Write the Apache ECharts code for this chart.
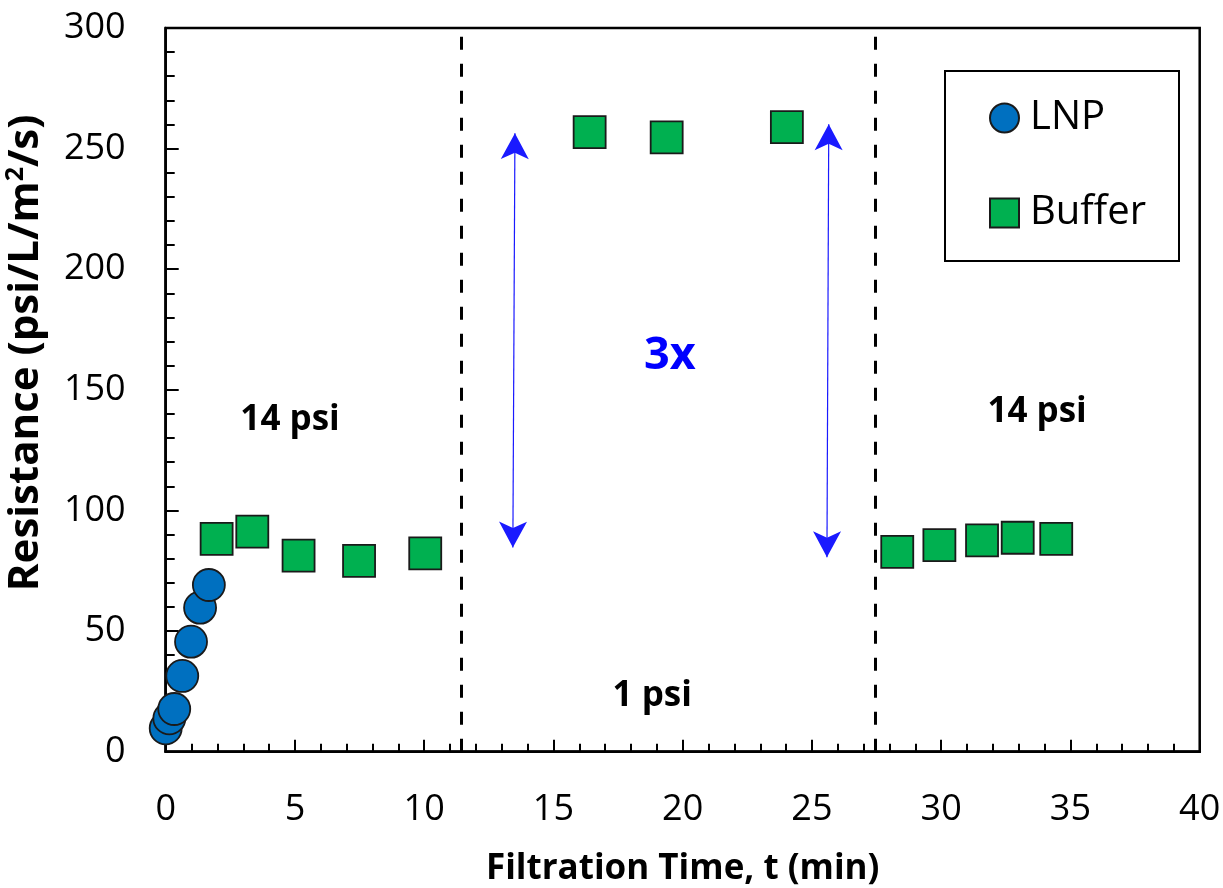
<!DOCTYPE html>
<html>
<head>
<meta charset="utf-8">
<script src="https://cdn.jsdelivr.net/npm/echarts@6/dist/echarts.min.js"></script>
<style>
html,body{margin:0;padding:0;background:#fff;}
#chart{width:1223px;height:888px;}
</style>
</head>
<body>
<div id="chart"></div>
<script>
// ---- data ----
var lnpX = [0.0, 0.14, 0.33, 0.64, 0.98, 1.33, 1.67];
var lnpY = [9.7, 13.8, 17.7, 31.4, 45.6, 59.7, 69.1];
var bufferX = [1.97, 3.35, 5.14, 7.48, 10.04, 16.40, 19.38, 24.03, 28.30, 29.93, 31.58, 32.96, 34.45];
var bufferY = [88.2, 91.2, 81.3, 79.1, 82.2, 256.8, 254.7, 258.9, 82.8, 85.6, 87.6, 88.7, 88.2];
var pressureChangeX = [11.42, 27.45];
// double arrows: [xTop, yTop, xBottom, yBottom]
var arrowLeft = [13.51, 256.4, 13.43, 84.6];
var arrowRight = [25.65, 260.1, 25.58, 80.6];
var noteTexts = ['14 psi', '1 psi', '14 psi', '3x'];
var noteX = [4.81, 18.82, 33.71, 19.5];
var noteY = [137.5, 22.9, 140.8, 164.0];
var xTicks = [0, 5, 10, 15, 20, 25, 30, 35, 40];
var yTicks = [0, 50, 100, 150, 200, 250, 300];

var FONT = 'Open Sans';

function zip(a, b) { return a.map(function (v, i) { return [v, b[i]]; }); }

function arrowLine(a) {
  return [
    { coord: [a[0], a[1]] },
    { coord: [a[2], a[3]] }
  ];
}

var notes = noteTexts.map(function (t, i) {
  var big = t === '3x';
  return {
    coord: [noteX[i], noteY[i]],
    label: {
      show: true,
      position: 'inside',
      formatter: t,
      fontFamily: FONT,
      fontWeight: 'bold',
      fontSize: big ? 45 : 35,
      color: big ? '#0000ff' : '#000'
    }
  };
});

var chart = echarts.init(document.getElementById('chart'), null, { renderer: 'canvas' });
chart.setOption({
  animation: false,
  backgroundColor: '#fff',
  grid: {
    left: 165.7, right: 23.3, top: 28, bottom: 136.3,
    containLabel: false, outerBoundsMode: 'none',
    show: true, borderColor: '#000', borderWidth: 2.5, backgroundColor: 'transparent'
  },
  legend: {
    data: ['LNP', 'Buffer'],
    orient: 'vertical',
    left: 945, top: 71,
    padding: [27, 29, 28, 44],
    itemGap: 55,
    itemWidth: 29, itemHeight: 29,
    backgroundColor: '#fff',
    borderColor: '#000', borderWidth: 2,
    textStyle: {
      fontFamily: FONT, fontSize: 40, color: '#000',
      lineHeight: 40, width: 120, padding: [0, 0, 0, 6]
    }
  },
  xAxis: {
    type: 'value', min: 0, max: 40, interval: 5,
    name: 'Filtration Time, t (min)',
    nameLocation: 'middle', nameGap: 100,
    nameTextStyle: { fontFamily: FONT, fontWeight: 'bold', fontSize: 35, color: '#000' },
    axisLine: { show: true, lineStyle: { color: '#000', width: 2.5 } },
    axisTick: { show: true, inside: true, length: 12, lineStyle: { color: '#000', width: 2 } },
    minorTick: { show: true, splitNumber: 5, length: 8, lineStyle: { color: '#000', width: 2 } },
    splitLine: { show: false },
    axisLabel: {
      fontFamily: FONT, fontSize: 36, color: '#000', margin: 40,
      formatter: function (v) { return xTicks.indexOf(v) >= 0 ? String(v) : ''; }
    }
  },
  yAxis: {
    type: 'value', min: 0, max: 300, interval: 50,
    name: '{t|Resistance (psi/L/m}{sup|2}{t|/s)}',
    nameLocation: 'middle', nameGap: 118,
    nameTextStyle: {
      padding: [0, 0, 0, 74],
      rich: {
        t: { fontFamily: FONT, fontWeight: 'bold', fontSize: 42, color: '#000' },
        sup: { fontFamily: FONT, fontWeight: 'bold', fontSize: 25, color: '#000', padding: [0, 0, 19, 0] }
      }
    },
    axisLine: { show: true, lineStyle: { color: '#000', width: 2.5 } },
    axisTick: { show: true, inside: true, length: 13, lineStyle: { color: '#000', width: 2 } },
    minorTick: { show: true, splitNumber: 5, length: 9, lineStyle: { color: '#000', width: 2 } },
    splitLine: { show: false },
    axisLabel: {
      fontFamily: FONT, fontSize: 36, color: '#000', margin: 40,
      formatter: function (v) { return yTicks.indexOf(v) >= 0 ? String(v) : ''; }
    }
  },
  series: [
    {
      name: 'dividers', type: 'scatter', data: [], silent: true, z: 1,
      markLine: {
        silent: true, animation: false, precision: 4,
        symbol: 'none',
        label: { show: false },
        lineStyle: { color: '#000', width: 3, type: [13, 14] },
        data: pressureChangeX.map(function (x) { return { xAxis: x }; })
      },
      markPoint: {
        silent: true, animation: false,
        symbol: 'circle', symbolSize: 1,
        itemStyle: { color: 'rgba(0,0,0,0)' },
        data: notes
      }
    },
    {
      name: 'arrows', type: 'scatter', data: [], silent: true, z: 2,
      markLine: {
        silent: true, animation: false, precision: 4,
        label: { show: false },
        symbol: ['arrow', 'arrow'],
        symbolSize: [21, 26],
        symbolOffset: [[0, 0], [0, 0]],
        lineStyle: { color: '#1a1aff', width: 1.2, type: 'solid' },
        data: [arrowLine(arrowLeft), arrowLine(arrowRight)]
      }
    },
    {
      name: 'Buffer', type: 'scatter', data: zip(bufferX, bufferY),
      symbol: 'rect', symbolSize: 32, clip: false, z: 3,
      itemStyle: { color: '#00b050', borderColor: '#1a1a1a', borderWidth: 1.8, opacity: 1 }
    },
    {
      name: 'LNP', type: 'scatter', data: zip(lnpX, lnpY),
      symbol: 'circle', symbolSize: 32, clip: false, z: 4,
      itemStyle: { color: '#0070c0', borderColor: '#1a1a1a', borderWidth: 1.8, opacity: 1 }
    }
  ]
});
</script>
</body>
</html>
